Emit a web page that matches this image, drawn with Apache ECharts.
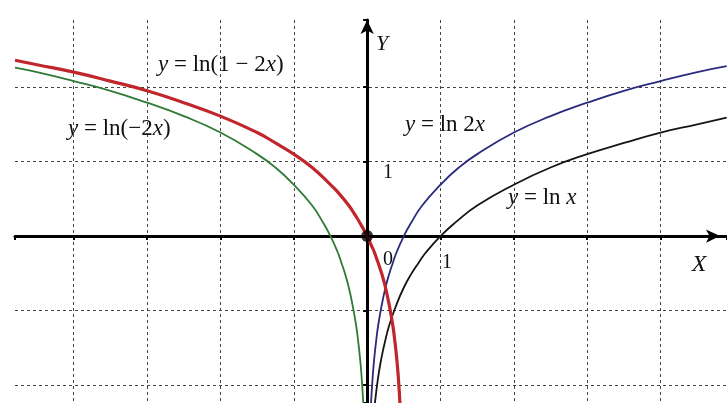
<!DOCTYPE html>
<html>
<head>
<meta charset="utf-8">
<script src="https://cdn.jsdelivr.net/npm/echarts@6/dist/echarts.min.js"></script>
<style>html,body{margin:0;padding:0;background:#fff}#c{width:727px;height:403px}</style>
</head>
<body>
<div id="c"></div>
<script>
// y = ln(1 - 2x)
const redCurve = [[-4.8,2.36],[-4.5,2.30],[-4,2.20],[-3.5,2.08],[-3,1.95],[-2.5,1.79],[-2,1.61],[-1.5,1.39],[-1.25,1.25],[-1,1.10],[-0.75,0.92],[-0.5,0.69],[-0.4,0.59],[-0.25,0.41],[-0.15,0.26],[-0.1,0.18],[0,0],[0.05,-0.11],[0.1,-0.22],[0.2,-0.51],[0.25,-0.69],[0.3,-0.92],[0.35,-1.20],[0.38,-1.43],[0.4,-1.61],[0.42,-1.83],[0.43,-1.97],[0.44,-2.12],[0.45,-2.30]];
// y = ln(-2x)
const greenCurve = [[-4.8,2.26],[-4.5,2.20],[-4,2.08],[-3.5,1.95],[-3,1.79],[-2.5,1.61],[-2,1.39],[-1.5,1.10],[-1.25,0.92],[-1,0.69],[-0.75,0.41],[-0.6,0.18],[-0.5,0],[-0.4,-0.22],[-0.35,-0.36],[-0.3,-0.51],[-0.25,-0.69],[-0.2,-0.92],[-0.15,-1.20],[-0.12,-1.43],[-0.1,-1.61],[-0.08,-1.83],[-0.06,-2.12],[-0.05,-2.30]];
// y = ln 2x
const blueCurve = [[0.05,-2.30],[0.06,-2.12],[0.08,-1.83],[0.1,-1.61],[0.12,-1.43],[0.15,-1.20],[0.2,-0.92],[0.25,-0.69],[0.3,-0.51],[0.35,-0.36],[0.4,-0.22],[0.5,0],[0.6,0.18],[0.75,0.41],[1,0.69],[1.25,0.92],[1.5,1.10],[2,1.39],[2.5,1.61],[3,1.79],[3.5,1.95],[4,2.08],[4.5,2.20],[4.9,2.28]];
// y = ln x
const blackCurve = [[0.1,-2.30],[0.12,-2.12],[0.16,-1.83],[0.2,-1.61],[0.24,-1.43],[0.3,-1.20],[0.4,-0.92],[0.5,-0.69],[0.6,-0.51],[0.7,-0.36],[0.8,-0.22],[1,0],[1.2,0.18],[1.5,0.41],[2,0.69],[2.5,0.92],[3,1.10],[3.5,1.25],[4,1.39],[4.5,1.50],[4.9,1.59]];
const originPoint = [[0,0]];
const curveLabels = ['y = ln(1 − 2x)', 'y = ln(−2x)', 'y = ln 2x', 'y = ln x'];
const axisNames = ['X', 'Y'];
const tickTexts = ['0', '1', '1'];

const serif = '"Liberation Serif", "DejaVu Serif", serif';
const rich = {
  i: { fontFamily: serif, fontStyle: 'italic', fontSize: 23, fill: '#111' },
  n: { fontFamily: serif, fontSize: 23, fill: '#111' }
};
function eq(s) {
  return s.split(/([xy])/).filter(p => p !== '').map(p => (p === 'x' || p === 'y') ? '{i|' + p + '}' : '{n|' + p + '}').join('');
}
function txt(str, x, y) {
  return {
    type: 'text', x: x, y: y, z: 100,
    style: { text: eq(str), rich: rich, verticalAlign: 'middle', align: 'left' }
  };
}
function plain(str, x, y, italic, size) {
  return {
    type: 'text', x: x, y: y, z: 100,
    style: { text: str, fontFamily: serif, fontStyle: italic ? 'italic' : 'normal', fontSize: size, fill: '#111', align: 'center', verticalAlign: 'middle' }
  };
}

const chart = echarts.init(document.getElementById('c'), null, { renderer: 'canvas' });
const gridLine = { show: true, lineStyle: { color: '#444', type: [3, 3], width: 1 }, showMinLine: false, showMaxLine: false };
const lineBase = { type: 'line', smooth: true, showSymbol: false, z: 3 };
chart.setOption({
  animation: false,
  backgroundColor: '#fff',
  grid: { left: 15, right: 0, top: 20, bottom: 0, containLabel: false },
  xAxis: {
    type: 'value', min: -4.8, max: 4.905, splitNumber: 10,
    axisLine: { onZero: true, lineStyle: { color: '#000', width: 3 }, symbol: ['none', 'arrow'], symbolSize: [10, 14], symbolOffset: [0, -7] },
    axisTick: { show: true, length: 4, lineStyle: { color: '#000', width: 2 } },
    axisLabel: { show: false },
    splitLine: gridLine
  },
  yAxis: {
    type: 'value', min: -2.24, max: 2.9, splitNumber: 5,
    axisLine: { onZero: true, lineStyle: { color: '#000', width: 3 }, symbol: ['none', 'arrow'], symbolSize: [10, 14], symbolOffset: [0, 0] },
    axisTick: { show: true, length: 4, lineStyle: { color: '#000', width: 2 } },
    axisLabel: { show: false },
    splitLine: gridLine
  },
  series: [
    Object.assign({}, lineBase, { data: greenCurve, lineStyle: { color: '#2f7a35', width: 1.8 } }),
    Object.assign({}, lineBase, { data: blackCurve, lineStyle: { color: '#151515', width: 1.8 } }),
    Object.assign({}, lineBase, { data: blueCurve, lineStyle: { color: '#2a2a7e', width: 1.8 } }),
    Object.assign({}, lineBase, { data: redCurve, lineStyle: { color: '#c0262c', width: 3.2 }, z: 4 }),
    { type: 'scatter', data: originPoint, symbolSize: 12, itemStyle: { color: '#000' }, z: 5 }
  ],
  graphic: [
    txt(curveLabels[0], 158, 65),
    txt(curveLabels[1], 68, 129),
    txt(curveLabels[2], 405, 125),
    txt(curveLabels[3], 508, 198),
    plain(axisNames[0], 699, 265, true, 24),
    plain(axisNames[1], 382, 44, true, 22),
    plain(tickTexts[0], 388, 260, false, 20),
    plain(tickTexts[1], 388, 173, false, 20),
    plain(tickTexts[2], 447, 263, false, 20)
  ]
});
</script>
</body>
</html>
